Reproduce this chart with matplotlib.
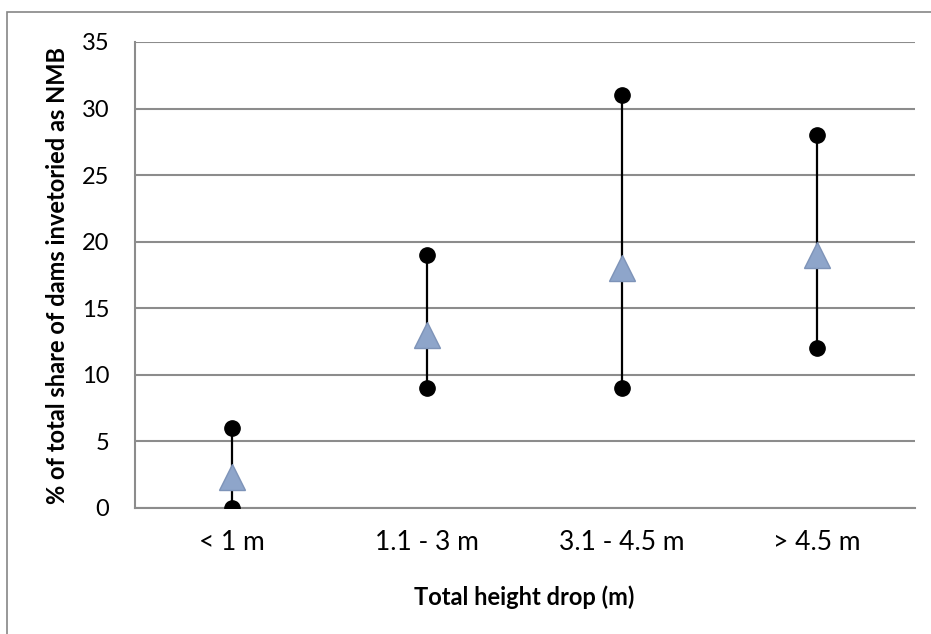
import matplotlib
matplotlib.use('Agg')
import matplotlib.pyplot as plt
from matplotlib.patches import Rectangle
import numpy as np

plt.rcParams['font.family'] = ['Lato', 'DejaVu Sans']

# data
categories = ['< 1 m', '1.1 - 3 m', '3.1 - 4.5 m', '> 4.5 m']
high_vals = [6, 19, 31, 28]
low_vals = [0, 9, 9, 12]
mid_vals = [2.3, 13, 18, 19]

fig = plt.figure(figsize=[9.31, 6.34], dpi=100)

# outer chart border (top/left visible, rest runs off the image)
fig.patches.append(Rectangle((7/931, -0.1), 1.2, 1 - 12/634 + 0.1,
                             transform=fig.transFigure, fill=False,
                             edgecolor='#868686', linewidth=1.2))

ax = fig.add_axes([134.5/931, 126/634, 780/931, 466/634])
x = np.arange(len(categories))

ax.set_ylim(0, 35)
ax.set_xlim(-0.5, len(categories) - 0.5)
ax.set_yticks(range(0, 36, 5))
ax.yaxis.grid(True, color='#8c8c8c', linewidth=1.5)
ax.set_axisbelow(True)
for side in ['top', 'right']:
    ax.spines[side].set_visible(False)
for side in ['left', 'bottom']:
    ax.spines[side].set_color('#8c8c8c')
    ax.spines[side].set_linewidth(1.5)
ax.tick_params(length=0, labelsize=19, pad=16)
ax.tick_params(axis='y', labelsize=17, pad=18)
ax.set_xticks(x)
ax.set_xticklabels(categories)

ax.vlines(x, low_vals, high_vals, color='black', linewidth=1.6, zorder=3)
ax.plot(x, high_vals, 'o', color='black', markersize=11, zorder=4)
ax.plot(x, low_vals, 'o', color='black', markersize=11, zorder=4)
ax.plot(x, mid_vals, '^', color='#8EA5CA', markeredgecolor='#7d93b8',
        markersize=19, zorder=5)

ax.set_xlabel('Total height drop (m)', fontsize=17, fontweight='bold')
ax.set_ylabel('% of total share of dams invetoried as NMB', fontsize=17,
              fontweight='bold')
ax.xaxis.set_label_coords(0.5, -(597 - 508) / 466, transform=ax.transAxes)
ax.yaxis.set_label_coords(-(134.5 - 58) / 780, 0.5, transform=ax.transAxes)
ax.xaxis.label.set_va('center')
ax.yaxis.label.set_va('center')

plt.savefig('out.png', dpi=100)
plt.close('all')
